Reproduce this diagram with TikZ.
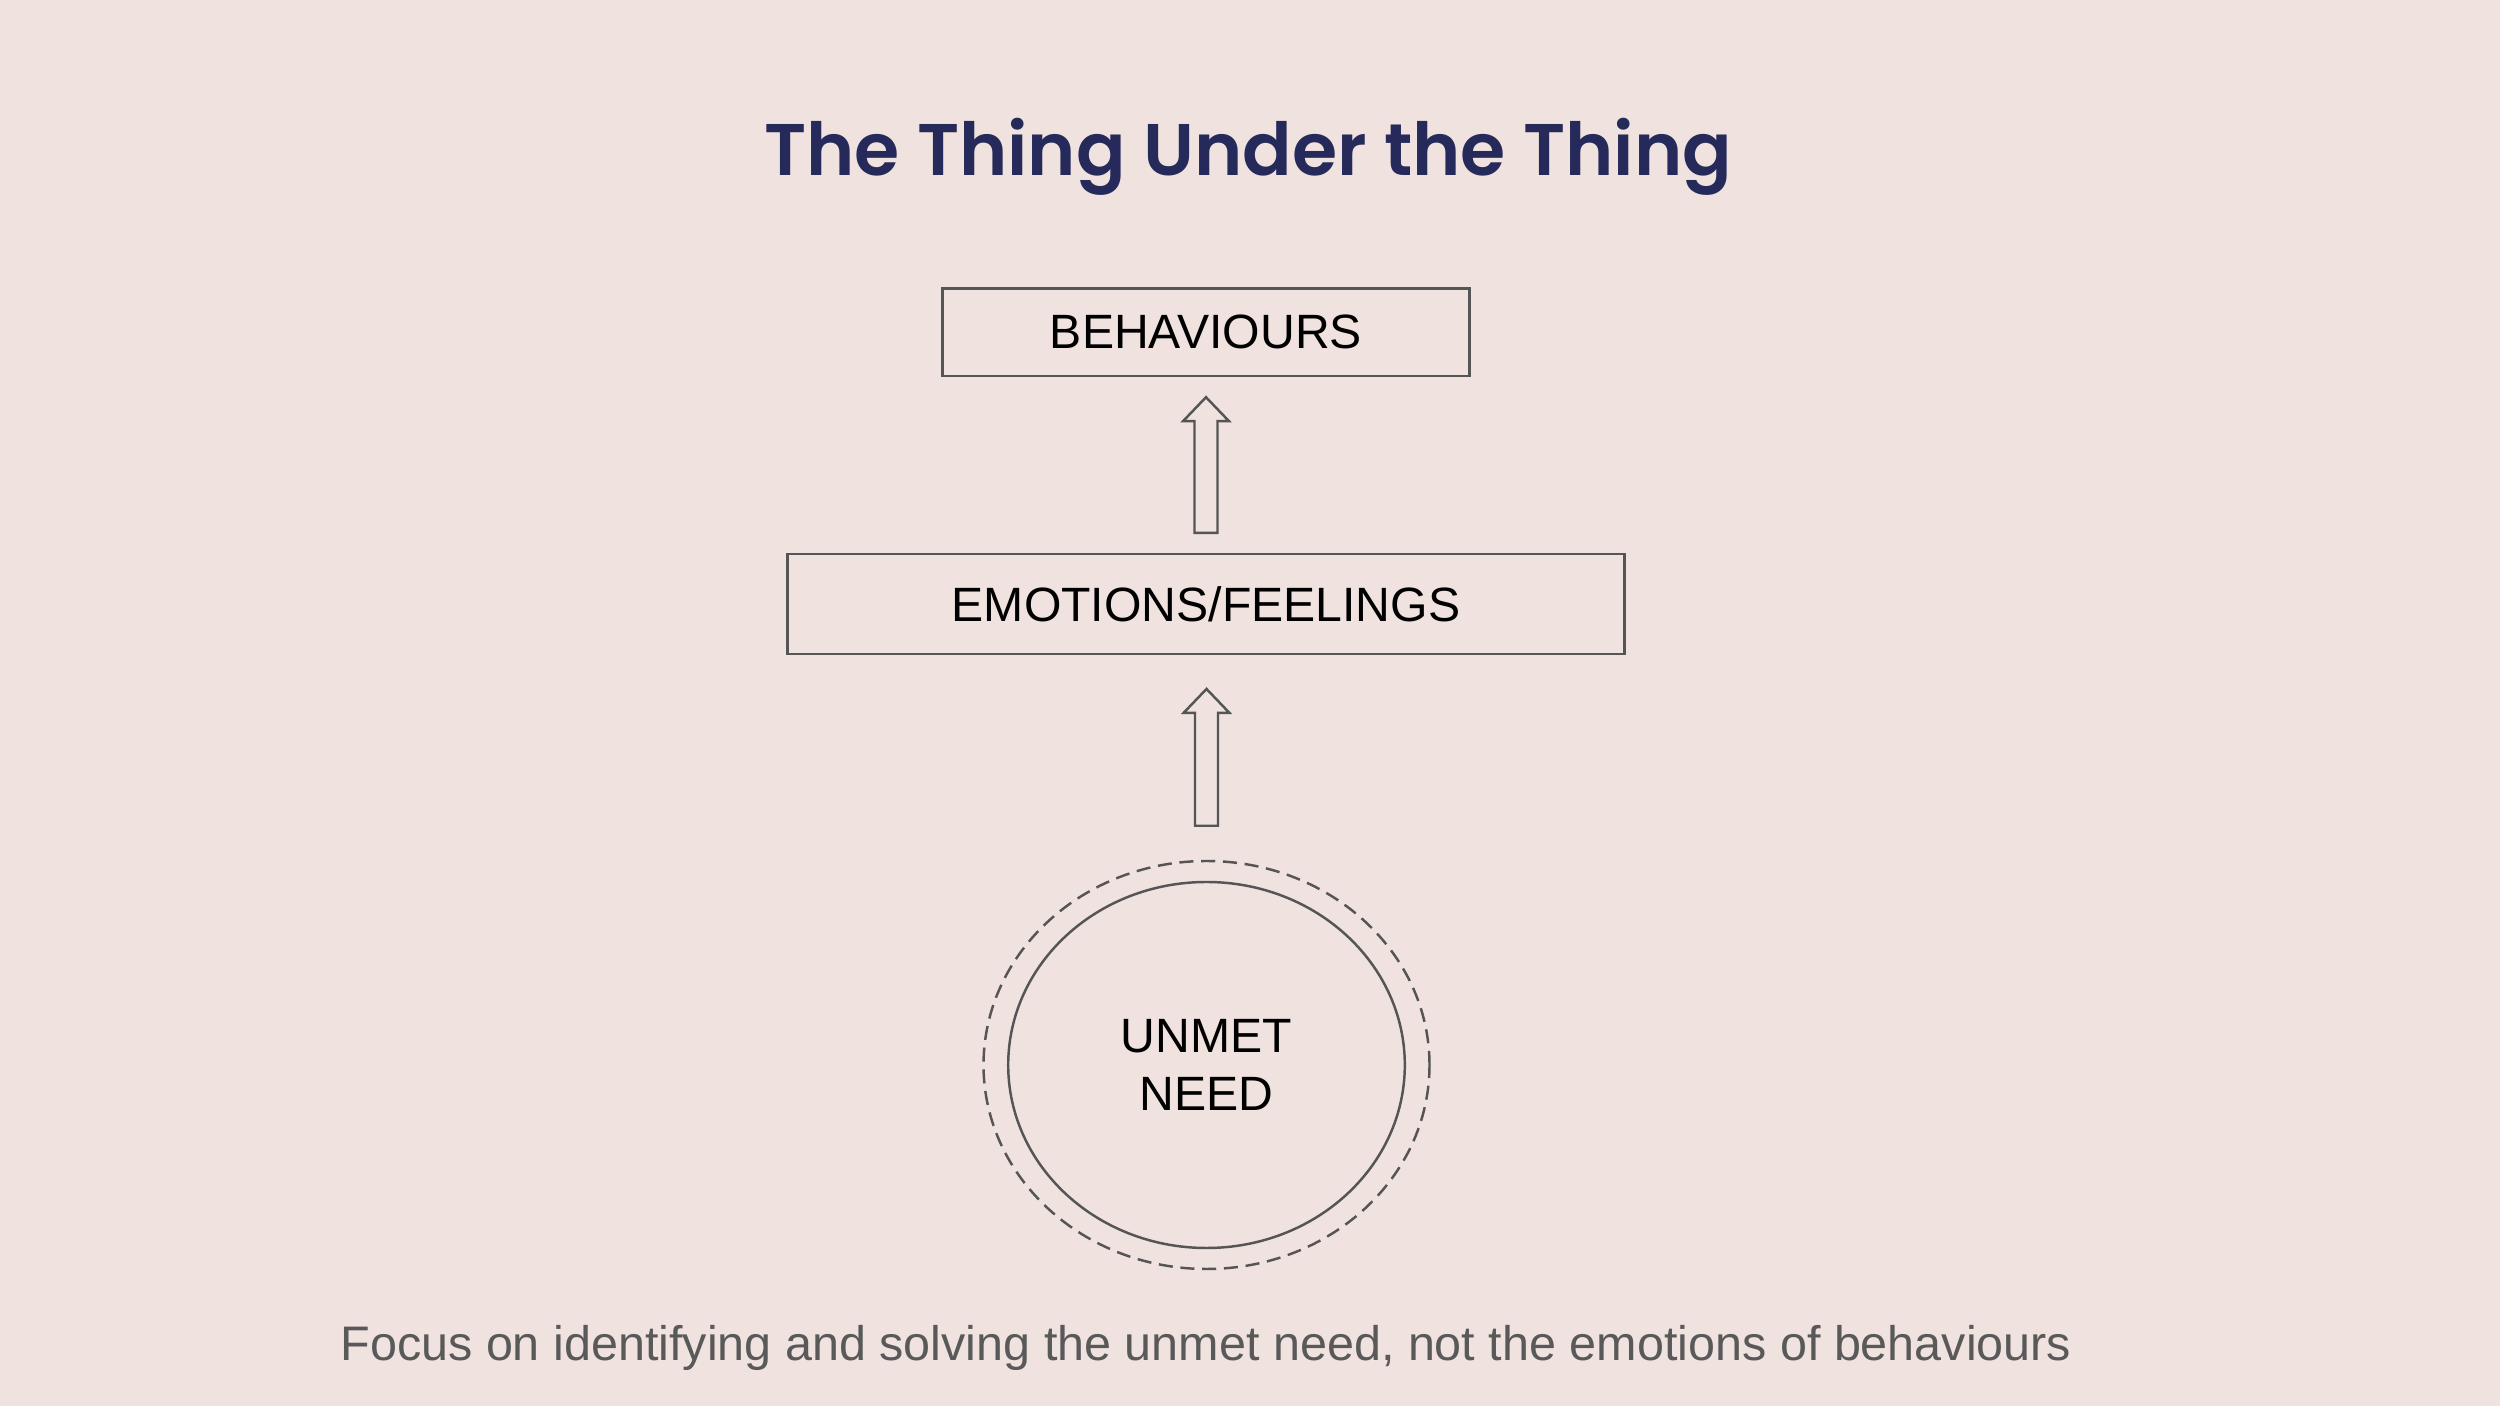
\documentclass[tikz,border=0pt]{standalone}
\usepackage{fontspec}
\setmainfont{Liberation Sans}
\newfontfamily\titlefont{Poppins SemiBold}
\usetikzlibrary{calc,shapes.geometric}
\definecolor{slidebg}{HTML}{F0E2DE}
\definecolor{titleblue}{HTML}{262A5A}
\definecolor{outline}{HTML}{555555}
\definecolor{footgray}{HTML}{595959}
\begin{document}
\begin{tikzpicture}[
  line/.style={draw=outline,line width=0.7pt},
  box/.style={line,rectangle,inner sep=0pt,font=\fontsize{13.7}{16.4}\selectfont,text=black},
  need/.style={line,ellipse,inner sep=0pt,align=center,font=\fontsize{13.7}{16.4}\selectfont,text=black},
  ring/.style={line,ellipse,inner sep=0pt,dash pattern=on 4pt off 2.2pt},
  blockarrow/.style={line,fill=slidebg,to path={let \p1=(\tikztostart),\p2=(\tikztotarget) in
    (\x1-0.115cm,\y1+#1) -- (\x1+0.115cm,\y1+#1) -- (\x1+0.115cm,\y2-#1-0.24cm)
    -- (\x1+0.23cm,\y2-#1-0.24cm) -- (\x1,\y2-#1) -- (\x1-0.23cm,\y2-#1-0.24cm)
    -- (\x1-0.115cm,\y2-#1-0.24cm) -- cycle}},
  title/.style={font=\titlefont\fontsize{20.8}{25}\selectfont,text=titleblue},
  label/.style={font=\fontsize{13.8}{16.4}\selectfont,text=footgray},
]
\fill[slidebg] (0,0) rectangle (25,14.06);
\useasboundingbox (0,0) rectangle (25,14.06);
\node[title,anchor=base] (title) at (12.48,12.30) {The Thing Under the Thing};
\node[box,minimum width=5.27cm,minimum height=0.874cm] (behav) at (12.06,10.737) {BEHAVIOURS};
\node[box,minimum width=8.37cm,minimum height=0.997cm] (emot) at (12.06,8.021) {EMOTIONS/FEELINGS};
\node[ring,minimum width=4.46cm,minimum height=4.08cm] (ring) at (12.065,3.41) {};
\node[need,minimum width=3.966cm,minimum height=3.66cm] (need) at (12.065,3.41) {UNMET\\NEED};
\draw[blockarrow=0.2cm] (emot.north) to (behav.south);
\draw[blockarrow=0.34cm] (ring.north) to (emot.south);
\node[label,anchor=base] (focus) at (12.06,0.453) {Focus on identifying and solving the unmet need, not the emotions of behaviours};
\end{tikzpicture}
\end{document}
